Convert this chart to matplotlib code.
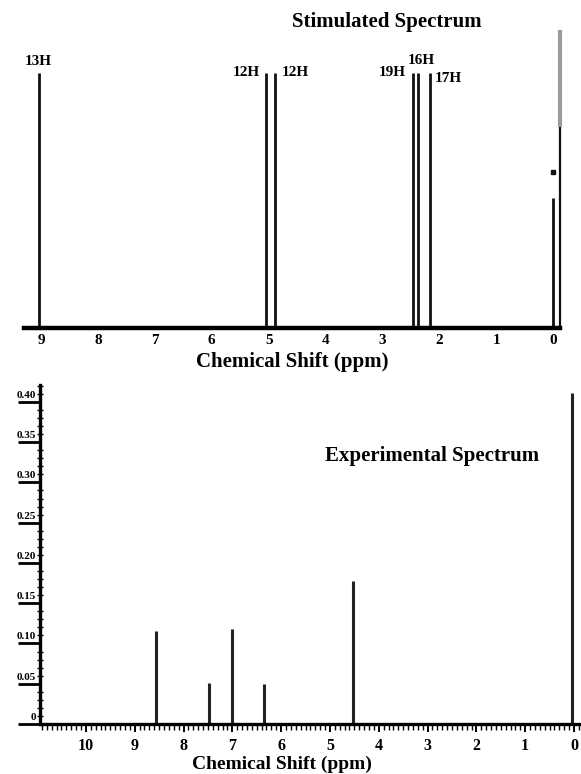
import matplotlib
matplotlib.use("Agg")
import matplotlib.pyplot as plt
import numpy as np
from matplotlib.ticker import MultipleLocator

plt.rcParams['font.family'] = ['Liberation Serif', 'DejaVu Serif']
plt.rcParams['font.weight'] = 'bold'

# ---------------- data ----------------
sim_shift = [9.03, 5.05, 4.88, 2.47, 2.38, 2.17, 0.0]
sim_height = [1.0, 1.0, 1.0, 1.0, 1.0, 1.0, 0.51]
sim_labels = ['13H', '12H', '12H', '19H', '16H', '17H', '']
sim_ref_shift = -0.12          # reference line at right edge
sim_ref_height = 1.17
sim_ref_gray_from = 0.79
sim_marker_height = 0.61
sim_xticks = [9, 8, 7, 6, 5, 4, 3, 2, 1, 0]

exp_shift = [8.57, 7.48, 7.01, 6.35, 4.53, 0.04]
exp_height = [0.115, 0.051, 0.118, 0.050, 0.178, 0.411]
exp_xticks = [10, 9, 8, 7, 6, 5, 4, 3, 2, 1, 0]
exp_yticks = [0, 0.05, 0.10, 0.15, 0.20, 0.25, 0.30, 0.35, 0.40]
exp_ylabels = ['0', '0.05', '0.10', '0.15', '0.20', '0.25', '0.30', '0.35', '0.40']

W, H = 581, 774
fig = plt.figure(figsize=(W / 100, H / 100), dpi=100)

# ---------------- top: simulated ----------------
ax1 = fig.add_axes([24 / W, 1 - 328 / H, 536 / W, 328 / H])
ax1.set_xlim(9.30, -0.12)
ax1.set_ylim(0, 1.286)
ax1.vlines(sim_shift, 0, sim_height, colors='#111111', linewidth=2.0)
ax1.vlines([sim_ref_shift], 0, [sim_ref_gray_from], colors='#111111', linewidth=1.6, clip_on=False)
ax1.vlines([sim_ref_shift], sim_ref_gray_from, sim_ref_height, colors='#9a9a9a', linewidth=3.0, clip_on=False)
ax1.plot([0.0], [sim_marker_height], marker='s', ms=3, color='#111111', clip_on=False)
for s in ['top', 'left', 'right']:
    ax1.spines[s].set_visible(False)
ax1.spines['bottom'].set_linewidth(3.2)
ax1.set_yticks([])
ax1.set_xticks(sim_xticks)
ax1.set_xticklabels([str(t) for t in sim_xticks], fontsize=11, fontweight='bold')
ax1.tick_params(axis='x', length=0, pad=4)
ax1.set_xlabel('Chemical Shift (ppm)', fontsize=15, fontweight='bold', labelpad=4)

offsets = [(-1, 11), (-20, 0), (20, 0), (-20, 0), (4, 12), (19, -6)]
for x, h, lab, (dx, dy) in zip(sim_shift, sim_height, sim_labels, offsets):
    if lab:
        ax1.annotate(lab, xy=(x, h), xytext=(dx * 0.72, dy * 0.72), textcoords='offset points',
                     ha='center', va='center', fontsize=11, fontweight='bold')
fig.text(387 / W, 1 - 22 / H, 'Stimulated Spectrum', ha='center', va='center',
         fontsize=15, fontweight='bold')

# ---------------- bottom: experimental ----------------
ax2 = fig.add_axes([40 / W, 1 - 724 / H, 541 / W, 339 / H])
ax2.set_xlim(10.94, -0.143)
ax2.set_ylim(0, 0.421)
ax2.vlines(exp_shift, 0, exp_height, colors='#222222', linewidth=2.2)
for s in ['top', 'right']:
    ax2.spines[s].set_visible(False)
ax2.spines['left'].set_linewidth(2.4)
ax2.spines['bottom'].set_linewidth(2.4)
ax2.set_xticks(exp_xticks)
ax2.set_xticklabels([str(t) for t in exp_xticks], fontsize=11.5, fontweight='bold')
ax2.xaxis.set_minor_locator(MultipleLocator(0.1))
ax2.tick_params(axis='x', which='major', direction='out', length=6, width=1.4, pad=4)
ax2.tick_params(axis='x', which='minor', direction='out', length=4, width=1.0)
ax2.set_yticks(exp_yticks)
ax2.set_yticklabels([])
ax2.yaxis.set_minor_locator(MultipleLocator(0.01))
ax2.tick_params(axis='y', which='major', direction='out', length=16, width=2.0)
ax2.tick_params(axis='y', which='minor', direction='inout', length=4, width=1.0)
for v, lab in zip(exp_yticks, exp_ylabels):
    ax2.annotate(lab, xy=(0, v), xycoords=ax2.get_yaxis_transform(), xytext=(-3, 1.5),
                 textcoords='offset points', ha='right', va='bottom', fontsize=8, fontweight='bold')
ax2.set_xlabel('Chemical Shift (ppm)', fontsize=14, fontweight='bold')
ax2.xaxis.set_label_coords((282 - 40) / 541, -40 / 339)
ax2.xaxis.label.set_va('center')
fig.text(432 / W, 1 - 456 / H, 'Experimental Spectrum', ha='center', va='center',
         fontsize=15, fontweight='bold')

fig.savefig('out.png', dpi=100)
